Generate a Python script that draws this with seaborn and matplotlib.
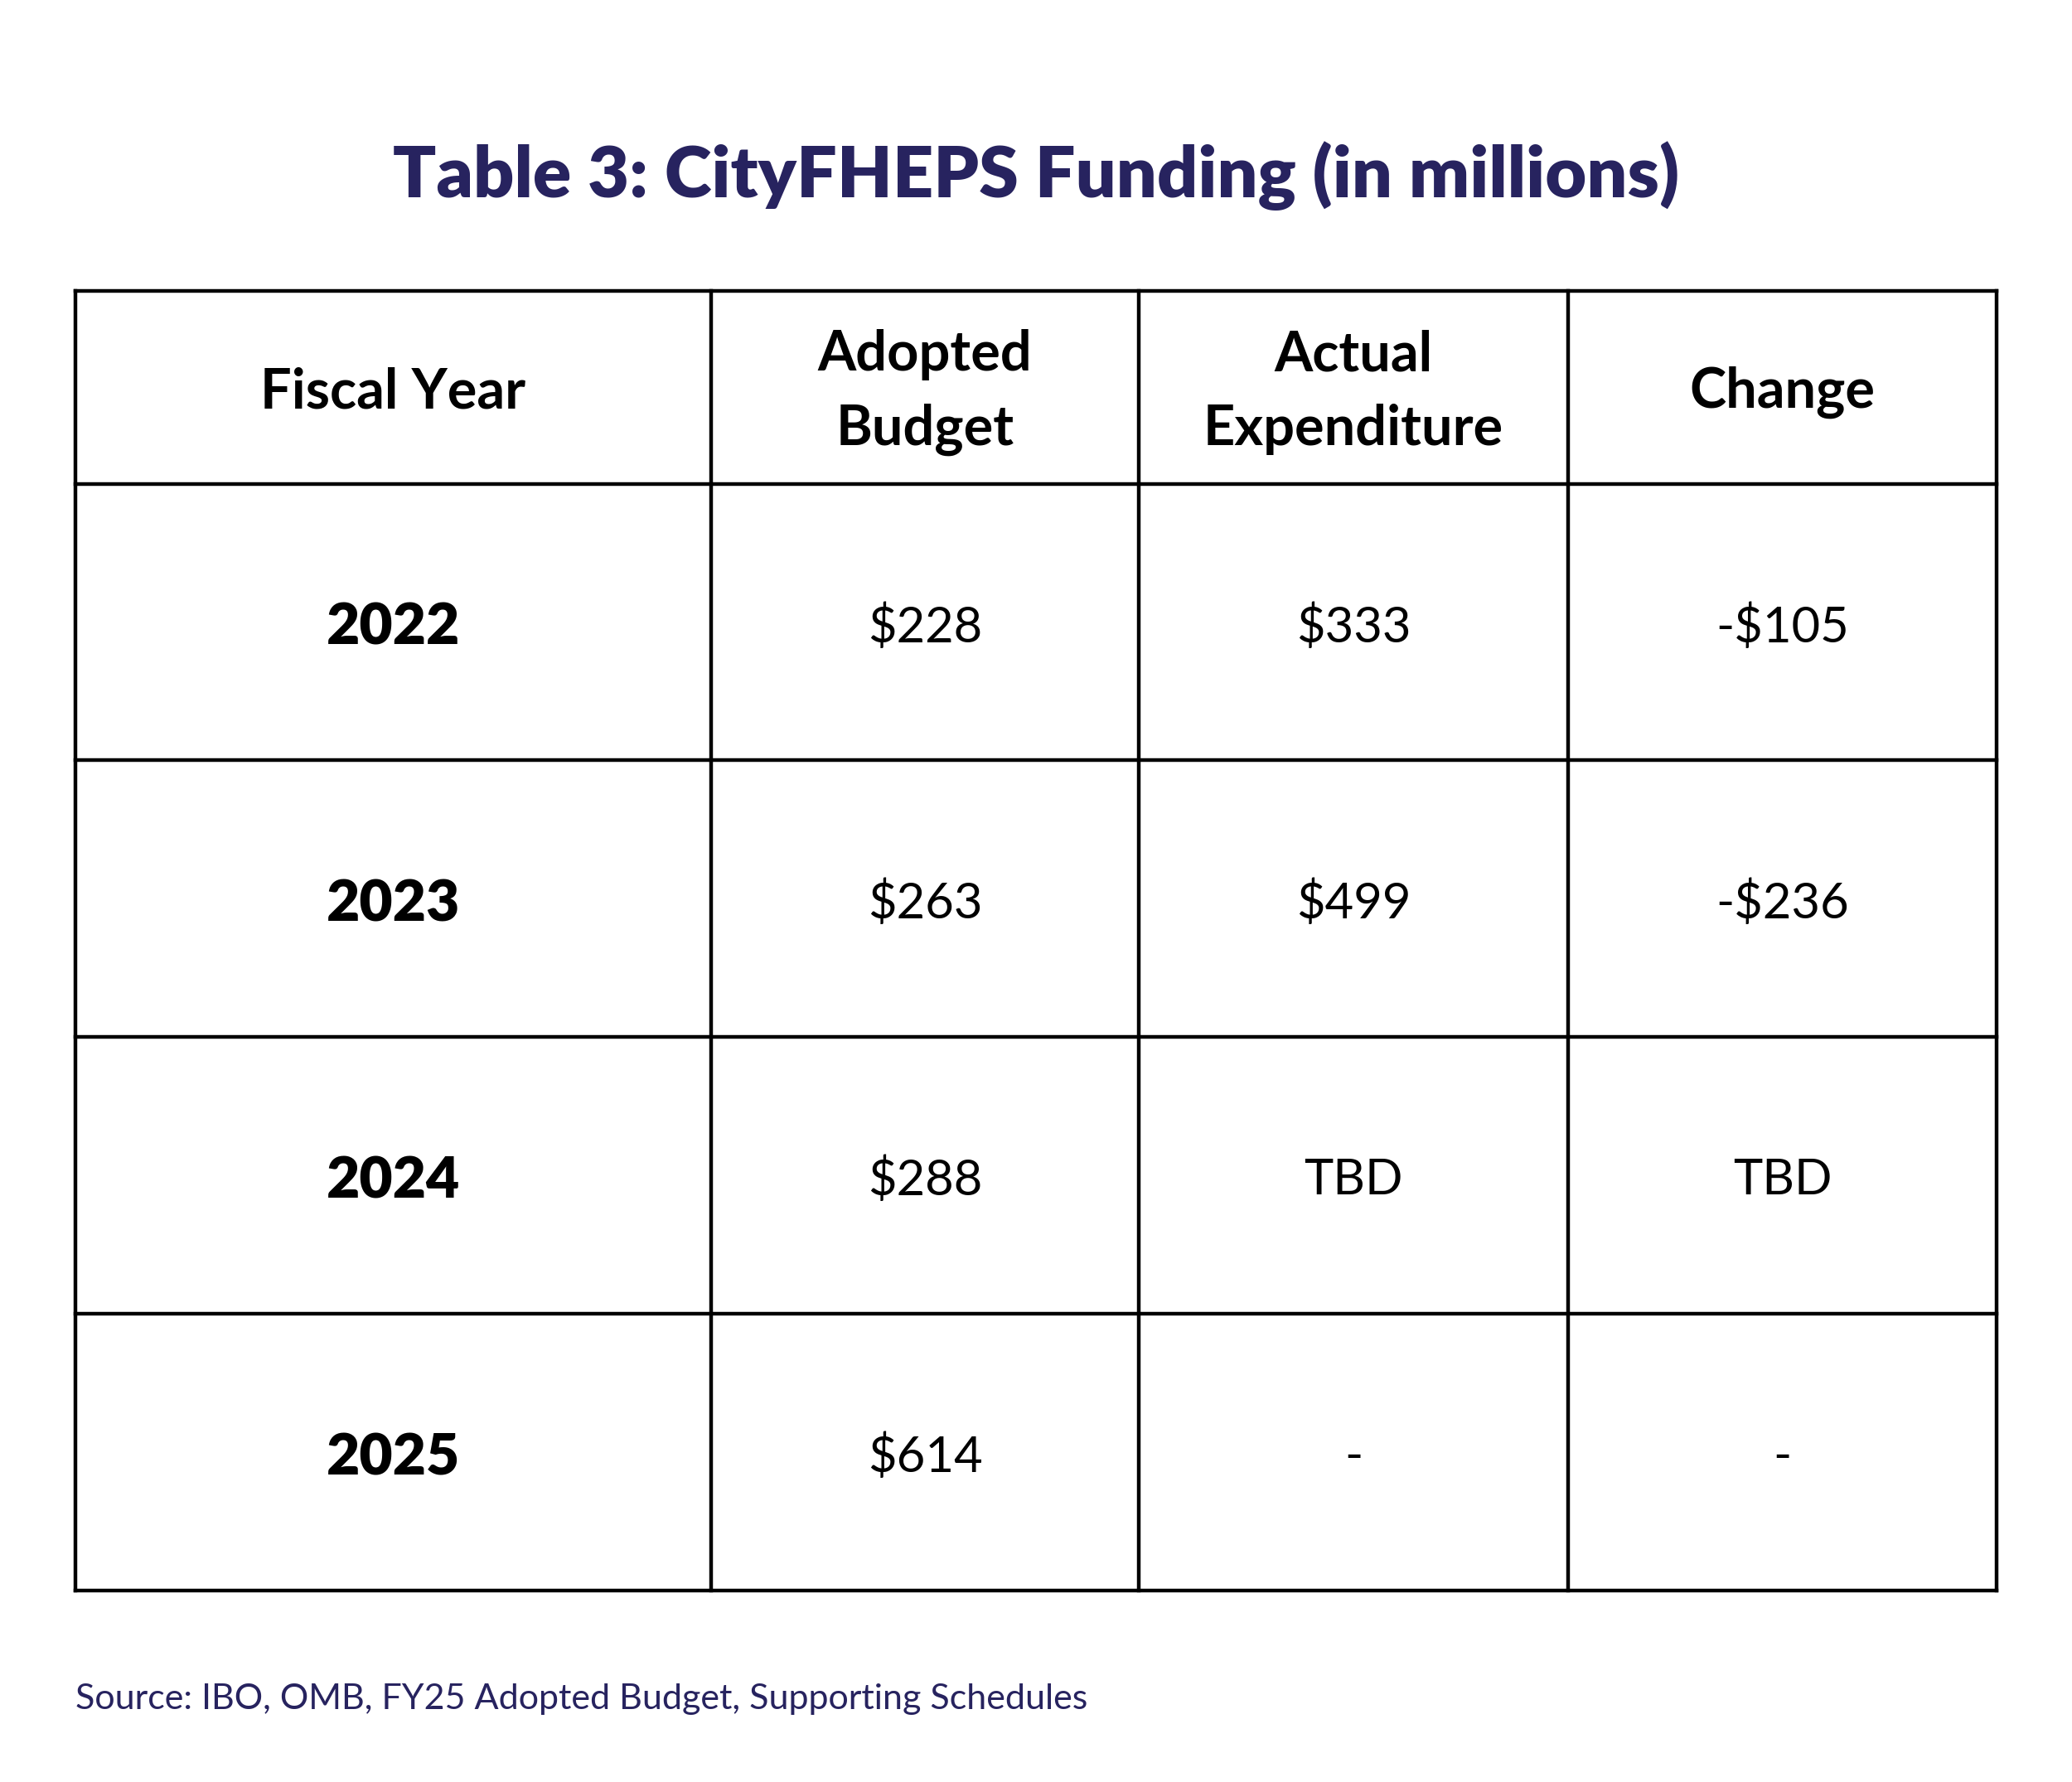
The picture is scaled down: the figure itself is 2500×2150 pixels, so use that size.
import matplotlib.pyplot as plt
import seaborn as sns

headers = ['Fiscal Year', 'Adopted\nBudget', 'Actual\nExpenditure', 'Change']
years = ['2022', '2023', '2024', '2025']
adopted = ['$228', '$263', '$288', '$614']
actual = ['$333', '$499', 'TBD', '-']
change = ['-$105', '-$236', 'TBD', '-']

title = 'Table 3: CityFHEPS Funding (in millions)'
source = 'Source: IBO, OMB, FY25 Adopted Budget, Supporting Schedules'

navy = '#27235f'

sns.set_theme(style='white')
plt.rcParams['font.family'] = ['Lato', 'DejaVu Sans']

fig = plt.figure(figsize=(25, 21.5), dpi=100)
ax = fig.add_axes([0, 0, 1, 1])
ax.set_xlim(0, 2500)
ax.set_ylim(2150, 0)
ax.axis('off')

# table layout in pixels
col_edges = [91, 858, 1374, 1892, 2409]
row_edges = [351, 584, 917, 1251, 1585, 1919]

for x in col_edges:
    ax.plot([x, x], [row_edges[0], row_edges[-1]], color='black', lw=3.2, solid_capstyle='projecting')
for y in row_edges:
    ax.plot([col_edges[0], col_edges[-1]], [y, y], color='black', lw=3.2, solid_capstyle='projecting')

def cx(i):
    return (col_edges[i] + col_edges[i + 1]) / 2

def cy(j):
    return (row_edges[j] + row_edges[j + 1]) / 2

for i, h in enumerate(headers):
    ax.text(cx(i), cy(0) + 6, h, ha='center', va='center', fontsize=48,
            fontweight='bold', linespacing=1.55, color='black')

for j in range(len(years)):
    ax.text(cx(0), cy(j + 1) + 8, years[j], ha='center', va='center', fontsize=50,
            fontweight='heavy', color='black')
    for i, col in enumerate([adopted, actual, change]):
        ax.text(cx(i + 1), cy(j + 1) + 6, col[j], ha='center', va='center',
                fontsize=43, color='black')

ax.text(1250, 212, title, ha='center', va='center', fontsize=62,
        fontweight='heavy', color=navy)
ax.text(91, 2050, source, ha='left', va='center', fontsize=31, color=navy)

fig.savefig('out.png', dpi=100, facecolor='white')
